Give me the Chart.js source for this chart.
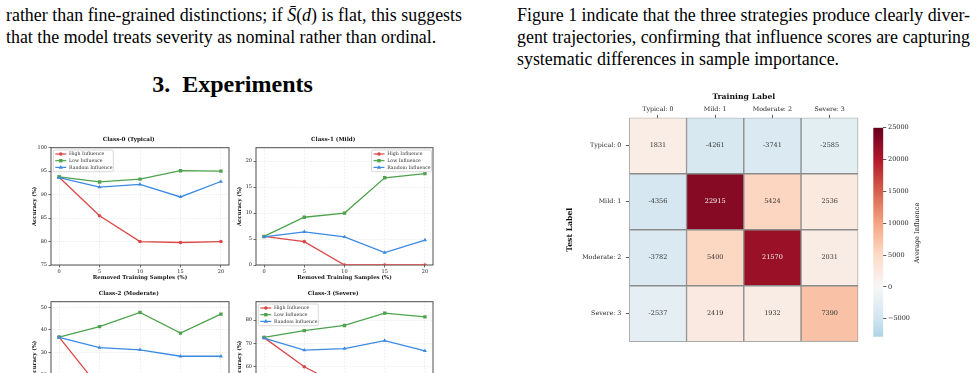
<!DOCTYPE html>
<html>
<head>
<meta charset="utf-8">
<script src="https://cdn.jsdelivr.net/npm/chart.js@4.4.1/dist/chart.umd.min.js"></script>
<style>
  html, body { margin: 0; padding: 0; background: #fff; }
  body { position: relative; width: 976px; height: 373px; overflow: hidden; font-family: "Liberation Serif", "Times New Roman", serif; color: #000; }
  .line { position: absolute; font-size: 17.9px; line-height: 22px; white-space: nowrap; }
  .heading { position: absolute; left: 0; width: 465px; top: 71.6px; text-align: center; font-size: 24px; line-height: 24px; font-weight: bold; }
  canvas { position: absolute; }
</style>
</head>
<body>
<div class="line justify" data-width="456" style="left:6px;top:3.5px">rather than fine-grained distinctions; if <i>S&#772;</i>(<i>d</i>) is flat, this suggests</div>
<div class="line" style="left:6px;top:25.5px">that the model treats severity as nominal rather than ordinal.</div>
<div class="heading">3.&nbsp; Experiments</div>
<div class="line justify" data-width="453" style="left:517px;top:3.5px">Figure 1 indicate that the three strategies produce clearly diver-</div>
<div class="line justify" data-width="453" style="left:517px;top:25.5px">gent trajectories, confirming that influence scores are capturing</div>
<div class="line" style="left:517px;top:47.5px">systematic differences in sample importance.</div>

<canvas id="class0" width="205" height="150" style="left:28px;top:132px"></canvas>
<canvas id="class1" width="204" height="150" style="left:233px;top:132px"></canvas>
<canvas id="class2" width="205" height="150" style="left:28px;top:286px"></canvas>
<canvas id="class3" width="204" height="150" style="left:233px;top:286px"></canvas>
<canvas id="heatmap" width="300" height="262" style="left:560px;top:88px"></canvas>
<canvas id="colorbar" width="64" height="228" style="left:860px;top:118px"></canvas>

<script>
// stretch the justified lines of the text columns to their column width
document.querySelectorAll('.justify').forEach(el => {
  const target = parseFloat(el.dataset.width);
  const spaces = el.textContent.split(' ').length - 1;
  const natural = el.getBoundingClientRect().width;
  el.style.wordSpacing = ((target - natural) / spaces) + 'px';
});

// removal experiment (left figure)
const removedPct = [0, 5, 10, 15, 20];
const class0High = [93.7, 85.5, 80.0, 79.8, 80.0];
const class0Low = [93.8, 92.7, 93.3, 95.1, 95.0];
const class0Random = [93.6, 91.6, 92.2, 89.5, 92.8];
const class1High = [5.5, 4.5, 0, 0, 0];
const class1Low = [5.5, 9.2, 10.0, 16.8, 17.6];
const class1Random = [5.4, 6.4, 5.4, 2.4, 4.8];
const class2High = [36.8, 14.0, 0, 0, 0];
const class2Low = [36.8, 41.5, 47.9, 38.6, 47.1];
const class2Random = [36.7, 32.1, 31.1, 28.2, 28.2];
const class3High = [72.5, 60.0, 51.0, 45.0, 42.6];
const class3Low = [72.6, 75.5, 77.7, 83.0, 81.4];
const class3Random = [72.3, 67.1, 67.8, 71.2, 66.8];

// average influence matrix (right figure), one array per test label
const trainLabels = ['Typical: 0', 'Mild: 1', 'Moderate: 2', 'Severe: 3'];
const testLabels = ['Typical: 0', 'Mild: 1', 'Moderate: 2', 'Severe: 3'];
const testTypical = [1831, -4261, -3741, -2585];
const testMild = [-4356, 22915, 5424, 2536];
const testModerate = [-3782, 5400, 21570, 2031];
const testSevere = [-2537, 2419, 1932, 7390];
const influenceRows = [testTypical, testMild, testModerate, testSevere];
const colorbarTicks = [-5000, 0, 5000, 10000, 15000, 20000, 25000];
const colorMin = -7815;
const colorMax = 25000;

const SERIF = '"DejaVu Serif", serif';
const RED = '#dc4747';
const GREEN = '#4da34d';
const BLUE = '#3a8ae4';

const rdbuStops = ['#053061', '#2166ac', '#4393c3', '#92c5de', '#d1e5f0', '#f7f7f7',
  '#fddbc7', '#f4a582', '#d6604d', '#b2182b', '#67001f'];

function hexRgb(h) {
  return [1, 3, 5].map(i => parseInt(h.slice(i, i + 2), 16));
}

function rdbu(v) {
  let t = 0.5 + v / 50000;
  t = Math.max(0, Math.min(1, t));
  const k = Math.min(9, Math.floor(t * 10));
  const f = t * 10 - k;
  const a = hexRgb(rdbuStops[k]), b = hexRgb(rdbuStops[k + 1]);
  const c = a.map((x, i) => Math.round(x + (b[i] - x) * f));
  return 'rgb(' + c.join(',') + ')';
}

function drawMarker(ctx, style, x, y, r, color) {
  ctx.fillStyle = color;
  ctx.beginPath();
  if (style === 'circle') {
    ctx.arc(x, y, r, 0, Math.PI * 2);
  } else if (style === 'rect') {
    const s = r * Math.SQRT1_2;
    ctx.rect(x - s, y - s, 2 * s, 2 * s);
  } else {
    ctx.moveTo(x, y - r);
    ctx.lineTo(x + r * 0.9, y + r * 0.6);
    ctx.lineTo(x - r * 0.9, y + r * 0.6);
    ctx.closePath();
  }
  ctx.fill();
}

// axes box like matplotlib spines
const frame = {
  id: 'frame',
  beforeDatasetsDraw(chart) {
    const {ctx, chartArea: a} = chart;
    ctx.save();
    ctx.strokeStyle = '#4d4d4d';
    ctx.lineWidth = 1;
    ctx.strokeRect(a.left, a.top, a.right - a.left, a.bottom - a.top);
    ctx.restore();
  }
};

// legend drawn inside the axes
const insideLegend = {
  id: 'insideLegend',
  afterDraw(chart, args, opts) {
    const {ctx, chartArea: a} = chart;
    const w = 60, h = 21.7;
    const x = opts.side.includes('right') ? a.right - w - 1.5 : a.left + 2.3;
    const y = opts.side.includes('lower') ? a.bottom - h - 2.3 : a.top + 2.3;
    ctx.save();
    ctx.fillStyle = 'rgba(255,255,255,0.85)';
    ctx.strokeStyle = '#cfcfcf';
    ctx.lineWidth = 0.8;
    ctx.beginPath();
    ctx.roundRect(x, y, w, h, 1.5);
    ctx.fill();
    ctx.stroke();
    chart.data.datasets.forEach((ds, i) => {
      const cy = y + 4 + i * 6.7;
      ctx.strokeStyle = ds.borderColor;
      ctx.lineWidth = 1.2;
      ctx.beginPath();
      ctx.moveTo(x + 2, cy);
      ctx.lineTo(x + 13, cy);
      ctx.stroke();
      drawMarker(ctx, ds.pointStyle, x + 7.5, cy, ds.pointRadius, ds.borderColor);
      ctx.fillStyle = '#333';
      ctx.font = '4.7px ' + SERIF;
      ctx.textBaseline = 'middle';
      ctx.textAlign = 'left';
      ctx.fillText(ds.label, x + 15.7, cy);
    });
    ctx.restore();
  }
};

function series(label, values, color, style, radius, order) {
  return {
    label: label,
    data: removedPct.map((x, i) => ({x: x, y: values[i]})),
    borderColor: color,
    backgroundColor: color,
    borderWidth: 1.3,
    pointStyle: style,
    pointRadius: radius,
    pointBorderWidth: 0,
    order: order
  };
}

function panel(id, title, high, low, random, yMin, yMax, yStep, legendSide, titleTop) {
  const tickFont = {family: SERIF, size: 5};
  const labelFont = {family: SERIF, size: 5.4, weight: 'bold'};
  return new Chart(document.getElementById(id), {
    type: 'line',
    data: {
      datasets: [
        series('High Influence', high, RED, 'circle', 1.8, 3),
        series('Low Influence', low, GREEN, 'rect', 2.4, 2),
        series('Random Influence', random, BLUE, 'triangle', 2.3, 1)
      ]
    },
    options: {
      responsive: false,
      animation: false,
      events: [],
      layout: {padding: {left: 0, right: 3.5, top: 0, bottom: 0}},
      plugins: {
        legend: {display: false},
        tooltip: {enabled: false},
        title: {
          display: true,
          text: title,
          color: '#111',
          font: {family: SERIF, size: 5.6, weight: 'bold'},
          padding: {top: titleTop, bottom: 15.7 - titleTop - 6.72}
        },
        insideLegend: {side: legendSide}
      },
      scales: {
        x: {
          type: 'linear',
          min: -1,
          max: 21,
          afterFit: s => { s.height = 17; },
          ticks: {stepSize: 5, includeBounds: false, font: tickFont, color: '#222', padding: 0.8, maxRotation: 0},
          grid: {color: 'rgba(0,0,0,0.12)', lineWidth: 0.6, tickLength: 2.5, tickColor: '#333', tickWidth: 0.7},
          border: {display: false, dash: [1.5, 1.5]},
          title: {display: true, text: 'Removed Training Samples (%)', color: '#111', font: labelFont, padding: {top: 0, bottom: 1.5}}
        },
        y: {
          min: yMin,
          max: yMax,
          afterFit: s => { s.width = 23; },
          ticks: {stepSize: yStep, includeBounds: false, font: tickFont, color: '#222', padding: 1.5},
          grid: {color: 'rgba(0,0,0,0.12)', lineWidth: 0.6, tickLength: 2.5, tickColor: '#333', tickWidth: 0.7},
          border: {display: false, dash: [1.5, 1.5]},
          title: {display: true, text: 'Accuracy (%)', color: '#111', font: labelFont, padding: {top: 3.3, bottom: 0}}
        }
      }
    },
    plugins: [frame, insideLegend]
  });
}

panel('class0', 'Class-0 (Typical)', class0High, class0Low, class0Random, 75, 100, 5, 'upper left', 4.6);
panel('class1', 'Class-1 (Mild)', class1High, class1Low, class1Random, 0, 22.6, 5, 'upper right', 4.6);
panel('class2', 'Class-2 (Moderate)', class2High, class2Low, class2Random, 0, 52.7, 10, 'lower left', 3.9);
panel('class3', 'Class-3 (Severe)', class3High, class3Low, class3Random, 37.6, 87.9, 10, 'upper left', 3.9);

// numbers inside heatmap cells
const cellText = {
  id: 'cellText',
  afterDatasetsDraw(chart) {
    const ctx = chart.ctx;
    ctx.save();
    ctx.font = '6.5px ' + SERIF;
    ctx.textAlign = 'center';
    ctx.textBaseline = 'middle';
    chart.data.datasets.forEach((ds, i) => {
      chart.getDatasetMeta(i).data.forEach((bar, j) => {
        const v = ds.influence[j];
        const p = bar.getCenterPoint();
        ctx.fillStyle = Math.abs(v) > 15000 ? '#f4f4f4' : '#333';
        ctx.fillText(String(v), p.x, p.y);
      });
    });
    ctx.restore();
  }
};

const axisTitleFont = {family: SERIF, size: 7.7, weight: 'bold'};
const heatTickFont = {family: SERIF, size: 6.3};

new Chart(document.getElementById('heatmap'), {
  type: 'bar',
  data: {
    labels: trainLabels,
    datasets: influenceRows.map((row, r) => ({
      label: testLabels[r],
      data: row.map(() => [r, r + 1]),
      influence: row,
      backgroundColor: row.map(rdbu),
      borderColor: '#8c8c8c',
      borderWidth: 1,
      borderSkipped: false,
      barPercentage: 1,
      categoryPercentage: 1,
      grouped: false
    }))
  },
  options: {
    responsive: false,
    animation: false,
    events: [],
    layout: {padding: {left: 0, right: 1.7, top: 0, bottom: 3.3}},
    plugins: {legend: {display: false}, tooltip: {enabled: false}},
    scales: {
      x: {
        position: 'top',
        afterFit: s => { s.height = 29.7; },
        ticks: {font: heatTickFont, color: '#262626', padding: 2, maxRotation: 0},
        grid: {offset: false, drawOnChartArea: false, tickLength: 3, tickColor: '#333', tickWidth: 0.8},
        border: {display: false},
        title: {display: true, text: 'Training Label', color: '#111', font: axisTitleFont, padding: {top: 4.7, bottom: 0}}
      },
      y: {
        type: 'linear',
        reverse: true,
        min: 0,
        max: 4,
        afterFit: s => { s.width = 69.3; },
        afterBuildTicks: s => { s.ticks = testLabels.map((_, i) => ({value: i + 0.5})); },
        ticks: {font: heatTickFont, color: '#262626', padding: 4.5, callback: (v, i) => testLabels[i]},
        grid: {drawOnChartArea: false, tickLength: 3.5, tickColor: '#333', tickWidth: 0.8},
        border: {display: false},
        title: {display: true, text: 'Test Label', color: '#111', font: axisTitleFont, padding: {top: 5.4, bottom: 0}}
      }
    }
  },
  plugins: [cellText]
});

// colorbar label reads bottom to top
const colorbarLabel = {
  id: 'colorbarLabel',
  afterDraw(chart) {
    const ctx = chart.ctx;
    ctx.save();
    ctx.translate(57, 115);
    ctx.rotate(-Math.PI / 2);
    ctx.font = '6.6px ' + SERIF;
    ctx.fillStyle = '#222';
    ctx.textAlign = 'center';
    ctx.textBaseline = 'middle';
    ctx.fillText('Average Influence', 0, 0);
    ctx.restore();
  }
};

new Chart(document.getElementById('colorbar'), {
  type: 'bar',
  data: {
    labels: [''],
    datasets: [{
      data: [[colorMin, colorMax]],
      backgroundColor(c) {
        const chart = c.chart;
        const y = chart.scales.y;
        if (!chart.chartArea || !y) return '#f7f7f7';
        const g = chart.ctx.createLinearGradient(0, y.getPixelForValue(-25000), 0, y.getPixelForValue(25000));
        rdbuStops.forEach((col, i) => g.addColorStop(i / 10, col));
        return g;
      },
      borderWidth: 0,
      barPercentage: 1,
      categoryPercentage: 1
    }]
  },
  options: {
    responsive: false,
    animation: false,
    events: [],
    layout: {padding: {left: 13.3, right: 0, top: 9.7, bottom: 9.3}},
    plugins: {legend: {display: false}, tooltip: {enabled: false}},
    scales: {
      x: {display: false},
      y: {
        position: 'right',
        min: colorMin,
        max: colorMax,
        afterFit: s => { s.width = 40.7; },
        afterBuildTicks: s => { s.ticks = colorbarTicks.map(v => ({value: v})); },
        ticks: {
          font: {family: SERIF, size: 6.5},
          color: '#262626',
          padding: 1.7,
          callback: v => v < 0 ? '\u2212' + Math.abs(v) : String(v)
        },
        grid: {drawOnChartArea: false, tickLength: 3, tickColor: '#333', tickWidth: 0.8},
        border: {display: false}
      }
    }
  },
  plugins: [colorbarLabel]
});
</script>
</body>
</html>
